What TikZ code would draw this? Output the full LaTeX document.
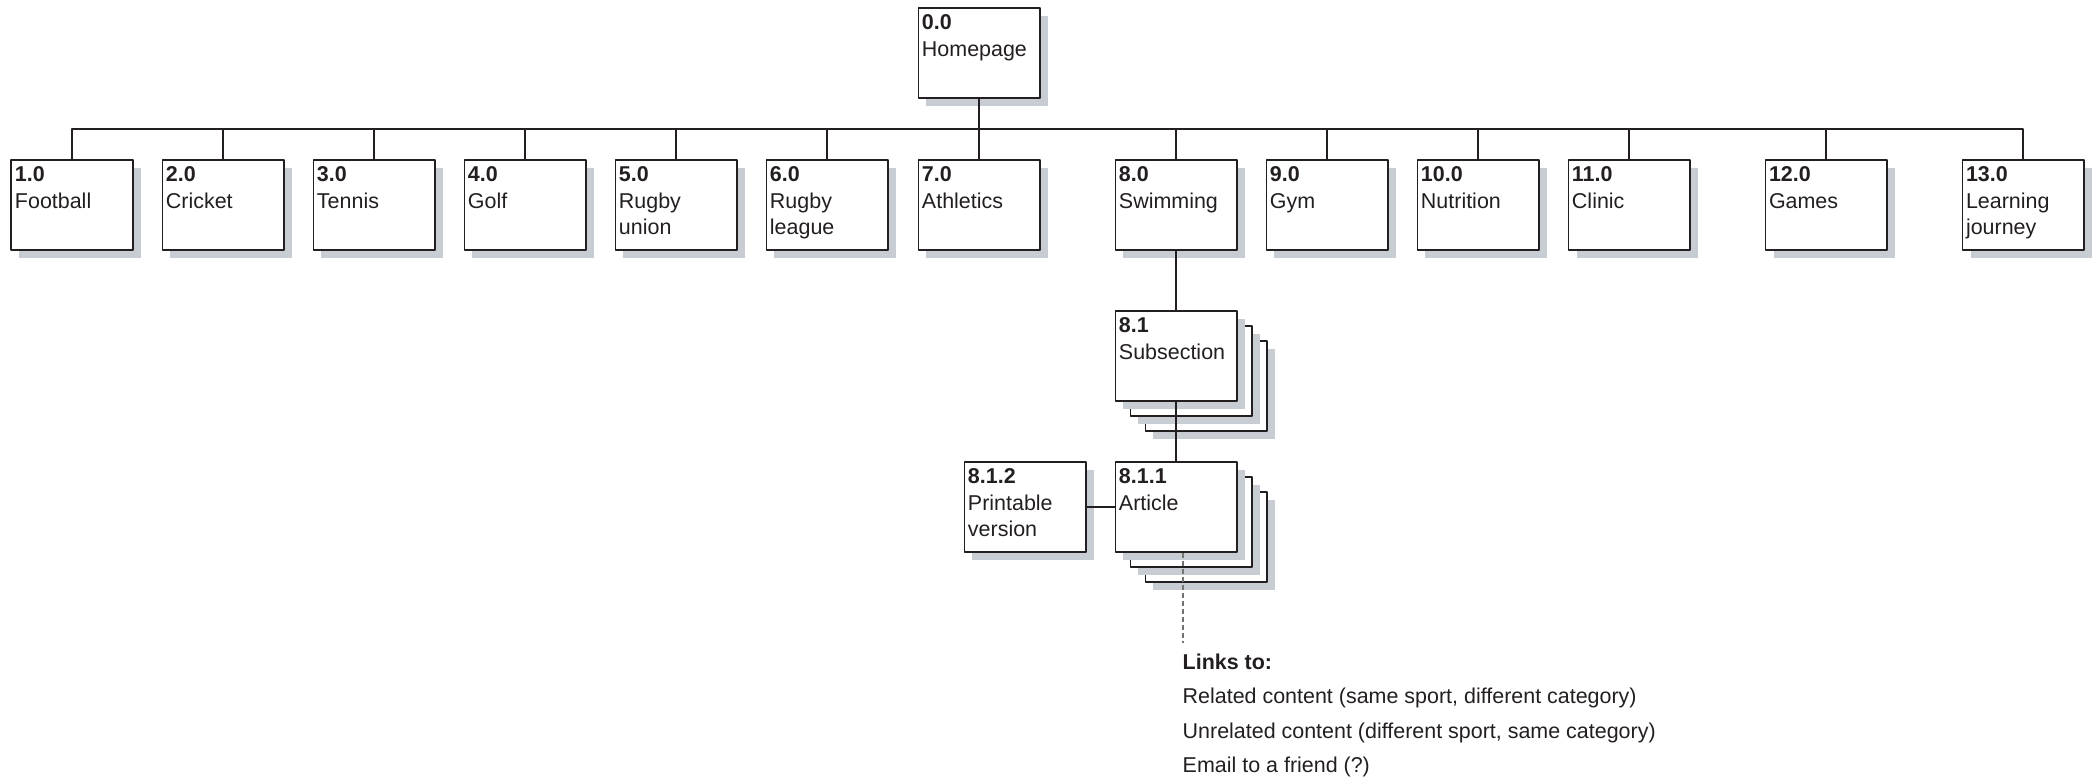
\documentclass[tikz,border=0pt]{standalone}
\usepackage{fontspec}
\setmainfont{Liberation Sans}
\usepackage{xcolor}
\usetikzlibrary{calc,shadows}

\definecolor{inkgray}{RGB}{35,31,32}
\definecolor{shadegray}{RGB}{200,204,211}
\definecolor{dotgray}{RGB}{115,115,115}
\newcommand{\pagetext}[2]{\parbox[t][0.76cm][t]{1.14cm}{\textbf{#1}\\#2}}
\tikzset{
  page/.style={draw=inkgray,line width=0.55pt,fill=white,inner xsep=0.035cm,inner ysep=0.07cm,
    minimum width=1.21cm,minimum height=0.90cm,text=inkgray,font=\fontsize{6.1}{7.5}\selectfont,
    drop shadow={shadow xshift=0.08cm,shadow yshift=-0.08cm,fill=shadegray,opacity=1}},
  link/.style={draw=inkgray,line width=0.8pt},
  linkdots/.style={draw=dotgray,line width=0.7pt,dash pattern=on 0.045cm off 0.035cm},
}

\begin{document}
\begin{tikzpicture}[x=0.01cm,y=-0.01cm,line join=round]
  \useasboundingbox (0,0) rectangle (2098,776);
  \coordinate (bar) at (979,129);
  \coordinate (S) at (1176,356);
  \coordinate (A) at (1176,507);
  \coordinate (linkend) at (1183,643);
  \node[page] (home) at (979,53) {\pagetext{0.0}{Homepage}};
  \node[page] (n1) at (72,205) {\pagetext{1.0}{Football}};
  \node[page] (n2) at (223,205) {\pagetext{2.0}{Cricket}};
  \node[page] (n3) at (374,205) {\pagetext{3.0}{Tennis}};
  \node[page] (n4) at (525,205) {\pagetext{4.0}{Golf}};
  \node[page] (n5) at (676,205) {\pagetext{5.0}{Rugby\\union}};
  \node[page] (n6) at (827,205) {\pagetext{6.0}{Rugby\\league}};
  \node[page] (n7) at (979,205) {\pagetext{7.0}{Athletics}};
  \node[page] (n8) at (1176,205) {\pagetext{8.0}{Swimming}};
  \node[page] (n9) at (1327,205) {\pagetext{9.0}{Gym}};
  \node[page] (n10) at (1478,205) {\pagetext{10.0}{Nutrition}};
  \node[page] (n11) at (1629,205) {\pagetext{11.0}{Clinic}};
  \node[page] (n12) at (1826,205) {\pagetext{12.0}{Games}};
  \node[page] (n13) at (2023,205) {\pagetext{13.0}{Learning\\journey}};
  % stacked pages
  \node[page] (sub3) at ($(S)+(30,30)$) {};
  \node[page] (sub2) at ($(S)+(15,15)$) {};
  \node[page] (sub) at (S) {\pagetext{8.1}{Subsection}};
  \node[page] (art3) at ($(A)+(30,30)$) {};
  \node[page] (art2) at ($(A)+(15,15)$) {};
  \node[page] (art) at (A) {\pagetext{8.1.1}{Article}};
  \node[page] (print) at (1025,507) {\pagetext{8.1.2}{Printable\\version}};
  \draw[link] (home.south) -- (bar);
  \draw[link] (n1.north) |- (bar);
  \draw[link] (n2.north) |- (bar);
  \draw[link] (n3.north) |- (bar);
  \draw[link] (n4.north) |- (bar);
  \draw[link] (n5.north) |- (bar);
  \draw[link] (n6.north) |- (bar);
  \draw[link] (n7.north) -- (bar);
  \draw[link] (n8.north) |- (bar);
  \draw[link] (n9.north) |- (bar);
  \draw[link] (n10.north) |- (bar);
  \draw[link] (n11.north) |- (bar);
  \draw[link] (n12.north) |- (bar);
  \draw[link] (n13.north) |- (bar);
  \draw[link] (n8.south) -- (sub.north);
  \draw[link] (sub.south) -- (art.north);
  \draw[link] (print.east) -- (art.west);
  \draw[linkdots] (art.south -| linkend) -- (linkend);
  \node[anchor=north west,inner sep=0pt,align=left,text=inkgray,font=\fontsize{6.1}{9.8}\selectfont] (links) at (1182,653)
    {\textbf{Links to:}\\Related content (same sport, different category)\\Unrelated content (different sport, same category)\\Email to a friend (?)};
\end{tikzpicture}
\end{document}
